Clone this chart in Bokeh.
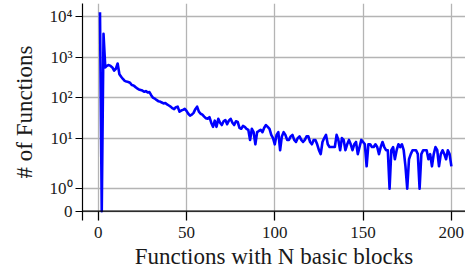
import math
from bokeh.plotting import figure
from bokeh.models import Range1d, FixedTicker, Span, ColumnDataSource
from bokeh.embed import file_html
from bokeh.resources import INLINE

# ---- data ----
n_blocks = list(range(1, 201))
counts = [
    13000, 0, 3800, 560, 620, 640, 610, 560, 470, 520,
    700, 380, 330, 290, 260, 250, 245, 235, 205, 200,
    185, 170, 160, 155, 150, 140, 145, 135, 138, 115,
    100, 95, 88, 82, 80, 76, 72, 74, 68, 64,
    60, 55, 52, 58, 60, 45, 48, 50, 53, 47,
    40, 36, 38, 42, 52, 60, 45, 40, 38, 34,
    31, 30, 33, 24, 19, 27, 19, 30, 24, 21,
    26, 28, 22, 27, 30, 24, 21, 26, 25, 18,
    17, 20, 19, 17, 16, 9, 17, 14, 7, 14,
    15, 16, 14, 18, 21, 19, 17, 12, 10, 7,
    12, 14, 5, 11, 14, 12, 9, 9, 11, 12,
    9, 8, 10, 11, 9, 8, 9, 11, 11, 8,
    7, 9, 9, 7, 5, 4, 8, 10, 12, 7,
    6, 6, 6, 6, 12, 9, 5, 10, 9, 5,
    7, 9, 7, 5, 7, 8, 4, 6, 9, 8,
    7, 2, 7, 7, 6, 6, 7, 6, 4, 6,
    8, 6, 5, 5, 1, 5, 6, 3, 5, 7,
    6, 7, 5, 2, 1, 3, 4, 5, 5, 5,
    4, 1, 4, 5, 5, 5, 3, 4, 2, 4,
    6, 5, 2, 4, 5, 4, 3, 5, 4, 2,
]
x_tick_values = [0, 50, 100, 150, 200]
y_tick_values = [0, 1, 10, 100, 1000, 10000]
y_tick_labels = ["0", "10\u2070", "10\u00b9", "10\u00b2", "10\u00b3", "10\u2074"]
x_title = "Functions with N basic blocks"
y_title = "# of Functions"

# symmetric-log scale (linear threshold 2, linscale 1, base 10), in decades
LINTHRESH = 2.0
LINSCALE_ADJ = 1.0 / (1.0 - 1.0 / 10.0)


def symlog(v):
    if abs(v) <= LINTHRESH:
        return v / LINTHRESH * LINSCALE_ADJ
    return math.copysign(LINSCALE_ADJ + math.log10(abs(v) / LINTHRESH), v)


src = ColumnDataSource(dict(x=n_blocks, y=[symlog(v) for v in counts]))

FONT = "Liberation Serif"
TXT = "#1a1a1a"

p = figure(width=465, height=273, output_backend="svg", toolbar_location=None,
           x_range=Range1d(-8.9, 208.0), y_range=Range1d(-0.23, 5.141),
           min_border_left=82, min_border_right=0, min_border_top=3,
           min_border_bottom=53)
p.outline_line_color = None
p.background_fill_color = "white"
p.border_fill_color = "white"

# grid
p.xgrid.ticker = FixedTicker(ticks=x_tick_values)
y_ticks = [symlog(v) for v in y_tick_values]
p.ygrid.ticker = FixedTicker(ticks=y_ticks)
for g in (p.xgrid, p.ygrid):
    g.grid_line_color = "#b4b4b4"
    g.grid_line_width = 1.3

p.line("x", "y", source=src, line_color="#0000ff", line_width=2.6,
       line_join="round")

p.add_layout(Span(location=0, dimension="width", line_color="black",
                  line_width=1.2))

# x axis
xa = p.xaxis[0]
xa.ticker = FixedTicker(ticks=x_tick_values)
xa.axis_line_color = None
xa.major_tick_in = 9
xa.major_tick_out = 0
xa.major_tick_line_color = "black"
xa.major_tick_line_width = 1.2
xa.minor_tick_line_color = None
xa.major_label_standoff = 6
xa.major_label_text_font = FONT
xa.major_label_text_font_size = "17px"
xa.major_label_text_color = TXT
xa.axis_label = x_title
xa.axis_label_text_font = FONT
xa.axis_label_text_font_size = "23px"
xa.axis_label_text_font_style = "normal"
xa.axis_label_text_color = TXT
xa.axis_label_standoff = 3

# y axis
ya = p.yaxis[0]
ya.ticker = FixedTicker(ticks=y_ticks)
ya.major_label_overrides = {t: lab for t, lab in zip(y_ticks, y_tick_labels)}
ya.axis_line_color = "black"
ya.axis_line_width = 1.2
ya.major_tick_in = 0
ya.major_tick_out = 7
ya.major_tick_line_width = 1.2
ya.minor_tick_line_color = None
ya.major_label_standoff = 3
ya.major_label_text_font = FONT
ya.major_label_text_font_size = "17px"
ya.major_label_text_color = TXT
ya.axis_label = y_title
ya.axis_label_text_font = FONT
ya.axis_label_text_font_size = "23px"
ya.axis_label_text_font_style = "normal"
ya.axis_label_text_color = TXT
ya.axis_label_standoff = 10

open("out.html", "w").write(file_html(p, INLINE))
